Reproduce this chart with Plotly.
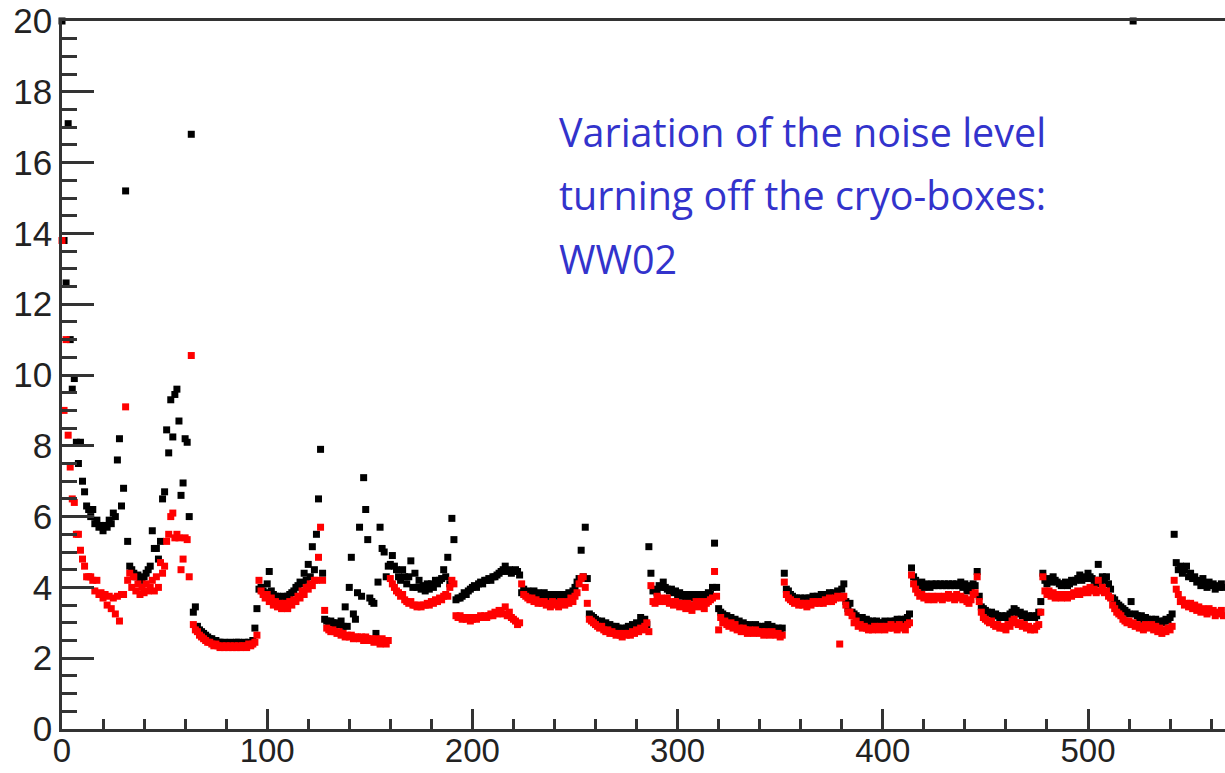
import plotly.graph_objects as go

# Noise level per channel (cryo-boxes on = black, cryo-boxes off = red)
noise_cryo_on = [
    # 0-31
    20.0, 13.8, 12.6, 17.1, 11.0, 9.6, 9.9, 8.1, 7.5, 8.1, 7.0, 6.7, 6.3, 6.2, 6.0, 6.2,
    5.8, 5.9, 5.7, 5.75, 5.6, 5.75, 5.7, 5.9, 5.8, 6.1, 6.0, 7.6, 8.2, 6.3, 6.8, 15.2,
    # 32-63
    5.3, 4.6, 4.5, 4.4, 4.3, 4.35, 4.25, 4.2, 4.3, 4.4, 4.5, 4.6, 5.6, 5.1, 5.1, 4.8,
    5.3, 6.5, 6.7, 8.45, 7.8, 9.3, 8.25, 9.45, 9.6, 8.7, 6.6, 6.95, 8.2, 8.1, 6.0, 16.8,
    # 64-95
    3.3, 3.45, 2.9, 2.8, 2.75, 2.7, 2.65, 2.6, 2.55, 2.55, 2.5, 2.5, 2.45, 2.45, 2.4, 2.45,
    2.4, 2.4, 2.45, 2.4, 2.4, 2.45, 2.45, 2.4, 2.35, 2.45, 2.4, 2.45, 2.4, 2.5, 2.85, 3.4,
    # 96-127
    3.95, 4.0, 3.9, 3.85, 4.1, 4.45, 3.9, 3.8, 3.75, 3.75, 3.7, 3.7, 3.75, 3.7, 3.75, 3.8,
    3.85, 3.9, 4.0, 4.05, 4.15, 4.1, 4.4, 4.2, 4.65, 4.3, 5.15, 4.5, 5.5, 6.5, 7.9, 4.4,
    # 128-159
    3.1, 3.05, 3.0, 3.05, 3.0, 2.95, 3.0, 2.95, 3.05, 2.9, 3.45, 2.9, 4.0, 4.85, 3.25, 3.1,
    3.85, 5.7, 3.75, 7.1, 6.2, 5.35, 3.7, 3.6, 3.55, 2.7, 4.15, 5.7, 5.1, 5.0, 4.3, 4.6,
    # 160-191
    4.65, 4.9, 4.6, 4.5, 4.3, 4.2, 4.5, 4.3, 4.1, 4.3, 4.75, 4.0, 4.4, 4.0, 4.2, 3.95,
    4.05, 3.9, 4.1, 3.95, 4.1, 4.0, 4.2, 4.1, 4.2, 4.25, 4.5, 4.3, 4.85, 4.1, 5.95, 5.35,
    # 192-223
    3.65, 3.7, 3.7, 3.75, 3.85, 3.8, 3.9, 3.95, 4.0, 4.05, 4.0, 4.1, 4.15, 4.1, 4.2, 4.2,
    4.25, 4.2, 4.3, 4.3, 4.35, 4.4, 4.45, 4.5, 4.6, 4.45, 4.5, 4.4, 4.45, 4.5, 4.45, 4.35,
    # 224-255
    3.85, 3.95, 3.8, 3.9, 3.85, 3.8, 3.9, 3.75, 3.85, 3.8, 3.75, 3.85, 3.7, 3.8, 3.7, 3.75,
    3.8, 3.75, 3.8, 3.7, 3.8, 3.75, 3.8, 3.85, 3.8, 3.9, 4.0, 4.15, 4.25, 5.05, 4.3, 5.7,
    # 256-287
    4.25, 3.25, 3.2, 3.15, 3.1, 3.05, 3.0, 3.05, 2.95, 3.0, 2.9, 2.95, 2.9, 2.85, 2.9, 2.85,
    2.8, 2.85, 2.8, 2.85, 2.9, 2.85, 2.95, 2.9, 3.0, 2.95, 3.15, 3.05, 3.1, 2.95, 5.15, 4.4,
    # 288-319
    3.9, 3.95, 3.85, 4.05, 4.0, 4.15, 4.0, 3.95, 3.9, 3.95, 3.85, 3.9, 3.8, 3.85, 3.75, 3.8,
    3.7, 3.75, 3.8, 3.7, 3.75, 3.8, 3.75, 3.8, 3.7, 3.75, 3.8, 3.85, 3.8, 4.0, 5.25, 4.0,
    # 320-351
    3.4, 3.3, 3.25, 3.2, 3.2, 3.1, 3.15, 3.05, 3.1, 3.0, 3.05, 2.95, 3.0, 2.95, 2.9, 2.95,
    2.9, 2.9, 2.95, 2.9, 2.85, 2.9, 2.85, 2.9, 2.95, 2.85, 2.9, 2.85, 2.8, 2.85, 2.8, 2.85,
    # 352-383
    4.4, 3.95, 3.9, 3.8, 3.75, 3.7, 3.7, 3.65, 3.7, 3.65, 3.7, 3.65, 3.7, 3.7, 3.75, 3.7,
    3.75, 3.7, 3.8, 3.75, 3.8, 3.75, 3.85, 3.8, 3.85, 3.8, 3.9, 3.75, 3.95, 4.1, 3.6, 3.4,
    # 384-415
    3.55, 3.3, 3.25, 3.2, 3.15, 3.1, 3.15, 3.05, 3.1, 3.05, 3.0, 3.05, 3.0, 3.05, 3.0, 2.95,
    3.0, 3.05, 3.0, 3.0, 3.05, 3.0, 3.05, 3.1, 3.05, 3.1, 3.05, 3.1, 3.15, 3.25, 4.55, 4.3,
    # 416-447
    4.2, 4.1, 4.05, 4.15, 4.0, 4.1, 4.05, 4.0, 4.1, 4.05, 4.1, 4.05, 4.1, 4.05, 4.1, 4.05,
    4.1, 4.05, 4.1, 4.05, 4.1, 4.05, 4.15, 4.0, 4.1, 3.9, 4.05, 3.95, 4.1, 4.05, 4.45, 3.75,
    # 448-479
    3.45, 3.4, 3.35, 3.3, 3.25, 3.3, 3.2, 3.25, 3.2, 3.15, 3.2, 3.15, 3.2, 3.15, 3.25, 3.3,
    3.4, 3.35, 3.25, 3.3, 3.2, 3.25, 3.15, 3.2, 3.15, 3.2, 3.15, 3.2, 3.3, 3.6, 4.4, 4.2,
    # 480-511
    4.1, 4.25, 4.15, 4.3, 4.2, 4.15, 4.1, 4.05, 4.1, 4.15, 4.05, 4.1, 4.2, 4.15, 4.2, 4.25,
    4.35, 4.2, 4.3, 4.25, 4.4, 4.3, 4.25, 4.2, 4.1, 4.65, 4.2, 4.3, 4.2, 4.3, 4.1, 3.95,
    # 512-541
    3.7, 3.65, 3.55, 3.5, 3.45, 3.4, 3.35, 3.3, 3.25, 3.6, 20.0, 3.25, 3.2, 3.15, 3.2,
    3.1, 3.15, 3.1, 3.05, 3.1, 3.05, 3.1, 3.0, 3.05, 3.0, 3.05, 3.1, 3.05, 3.15, 3.25,
    # 542-567
    5.5, 4.7, 4.5, 4.6, 4.4, 4.5, 4.6, 4.3, 4.4, 4.25, 4.3, 4.15, 4.2,
    4.05, 4.25, 4.1, 4.0, 4.15, 4.05, 4.1, 3.95, 4.05, 4.0, 4.1, 4.0, 4.05,
]

noise_cryo_off = [
    # 0-31
    13.8, 9.0, 11.0, 8.3, 7.4, 6.5, 6.4, 5.5, 5.5, 5.05, 4.8, 4.6, 4.3, 4.3, 4.3, 4.2,
    3.9, 4.2, 3.8, 3.85, 3.7, 3.8, 3.5, 3.75, 3.4, 3.7, 3.25, 3.75, 3.05, 3.8, 3.8, 9.1,
    # 32-63
    4.2, 4.4, 4.0, 4.3, 3.9, 4.1, 3.8, 4.0, 3.85, 4.1, 3.9, 4.0, 4.2, 3.9, 4.3, 4.0,
    4.7, 4.4, 4.6, 5.3, 5.5, 6.0, 6.1, 5.4, 5.5, 5.4, 4.5, 4.8, 5.4, 5.35, 4.3, 10.55,
    # 64-95
    2.95, 2.8, 2.75, 2.65, 2.6, 2.55, 2.5, 2.45, 2.45, 2.4, 2.35, 2.4, 2.35, 2.3, 2.35, 2.3,
    2.35, 2.3, 2.35, 2.3, 2.35, 2.3, 2.35, 2.3, 2.35, 2.35, 2.3, 2.4, 2.35, 2.4, 2.45, 2.65,
    # 96-127
    4.2, 3.9, 3.8, 3.7, 3.8, 3.6, 3.7, 3.5, 3.6, 3.45, 3.55, 3.4, 3.5, 3.55, 3.4, 3.6,
    3.5, 3.65, 3.6, 3.75, 3.7, 3.9, 3.8, 4.0, 3.95, 4.1, 4.05, 4.2, 4.2, 4.85, 5.7, 4.2,
    # 128-159
    3.35, 2.85, 2.8, 2.75, 2.8, 2.75, 2.7, 2.75, 2.65, 2.7, 2.6, 2.65, 2.6, 2.65, 2.55, 2.6,
    2.6, 2.55, 2.6, 2.5, 2.6, 2.55, 2.5, 2.55, 2.45, 2.55, 2.5, 2.4, 2.55, 2.45, 2.4, 2.5,
    # 160-191
    4.25, 4.1, 4.0, 3.9, 3.85, 3.75, 3.8, 3.65, 3.6, 3.55, 3.6, 3.5, 3.5, 3.45, 3.5, 3.45,
    3.5, 3.5, 3.55, 3.5, 3.6, 3.55, 3.65, 3.6, 3.7, 3.65, 3.75, 3.8, 3.75, 4.0, 4.2, 4.1,
    # 192-223
    3.2, 3.15, 3.2, 3.1, 3.15, 3.1, 3.15, 3.05, 3.1, 3.15, 3.1, 3.15, 3.2, 3.15, 3.2, 3.15,
    3.2, 3.25, 3.2, 3.3, 3.25, 3.35, 3.3, 3.25, 3.45, 3.2, 3.3, 3.15, 3.1, 3.05, 2.95, 3.0,
    # 224-255
    4.1, 3.8, 3.75, 3.7, 3.65, 3.7, 3.6, 3.65, 3.55, 3.6, 3.55, 3.6, 3.5, 3.55, 3.45, 3.6,
    3.5, 3.55, 3.45, 3.6, 3.55, 3.5, 3.6, 3.55, 3.7, 3.6, 3.75, 3.85, 4.1, 4.25, 4.3, 4.0,
    # 256-287
    3.55, 3.1, 3.05, 3.0, 2.95, 2.9, 2.85, 2.9, 2.8, 2.75, 2.8, 2.7, 2.75, 2.7, 2.65, 2.7,
    2.65, 2.6, 2.7, 2.65, 2.7, 2.65, 2.75, 2.7, 2.8, 2.75, 2.85, 2.8, 2.9, 3.0, 2.75, 4.05,
    # 288-319
    3.6, 3.55, 3.75, 3.6, 3.7, 3.65, 3.6, 3.7, 3.55, 3.6, 3.5, 3.6, 3.55, 3.45, 3.55, 3.5,
    3.4, 3.55, 3.45, 3.35, 3.5, 3.6, 3.45, 3.55, 3.6, 3.4, 3.55, 3.6, 3.65, 3.7, 4.45, 3.75,
    # 320-351
    2.8, 3.15, 3.0, 3.05, 2.95, 2.9, 3.0, 2.85, 2.95, 2.8, 2.85, 2.75, 2.85, 2.8, 2.7, 2.8,
    2.75, 2.7, 2.8, 2.75, 2.7, 2.75, 2.65, 2.75, 2.7, 2.65, 2.75, 2.7, 2.65, 2.7, 2.6, 2.65,
    # 352-383
    4.15, 3.8, 3.7, 3.65, 3.6, 3.55, 3.6, 3.5, 3.55, 3.5, 3.55, 3.45, 3.55, 3.5, 3.6, 3.55,
    3.6, 3.55, 3.6, 3.55, 3.65, 3.6, 3.7, 3.6, 3.65, 3.7, 3.75, 2.4, 3.7, 3.75, 3.5, 3.3,
    # 384-415
    3.3, 3.2, 3.0, 3.05, 2.9, 2.95, 2.85, 2.9, 2.85, 2.8, 2.85, 2.8, 2.9, 2.85, 2.8, 2.9,
    2.85, 2.8, 2.9, 2.85, 2.95, 2.85, 2.9, 2.8, 2.95, 2.85, 2.9, 2.8, 2.95, 3.0, 4.35, 4.1,
    # 416-447
    3.95, 3.85, 3.75, 3.8, 3.7, 3.75, 3.65, 3.7, 3.75, 3.65, 3.7, 3.75, 3.7, 3.65, 3.75, 3.7,
    3.8, 3.7, 3.75, 3.65, 3.8, 3.7, 3.75, 3.65, 3.7, 3.6, 3.55, 3.65, 3.8, 3.85, 4.3, 3.6,
    # 448-479
    3.3, 3.15, 3.1, 3.05, 3.0, 3.05, 2.95, 2.9, 2.95, 2.85, 2.9, 2.85, 2.8, 2.95, 2.9, 3.05,
    3.1, 3.0, 2.95, 3.0, 2.9, 2.95, 2.85, 2.9, 2.8, 2.85, 2.8, 2.9, 2.95, 3.3, 4.3, 3.9,
    # 480-511
    3.8, 3.9, 3.75, 3.85, 3.7, 3.8, 3.75, 3.7, 3.8, 3.75, 3.7, 3.8, 3.75, 3.85, 3.8, 3.9,
    3.8, 3.85, 3.9, 3.95, 3.85, 4.0, 3.9, 3.95, 3.85, 4.2, 3.9, 4.0, 3.85, 3.9, 3.75, 3.7,
    # 512-541
    3.5, 3.4, 3.3, 3.25, 3.2, 3.1, 3.05, 3.0, 3.05, 2.95, 3.0, 2.9, 2.95, 2.85, 2.9,
    2.8, 2.95, 2.9, 2.85, 2.95, 2.8, 2.9, 2.75, 2.85, 2.7, 2.8, 2.75, 2.85, 2.8, 2.9,
    # 542-567
    4.2, 3.95, 3.8, 3.6, 3.65, 3.5, 3.55, 3.45, 3.55, 3.4, 3.5, 3.35, 3.45,
    3.3, 3.4, 3.35, 3.25, 3.4, 3.3, 3.35, 3.2, 3.3, 3.25, 3.35, 3.2, 3.3,
]

channels = list(range(len(noise_cryo_on)))

x_ticks = [0, 100, 200, 300, 400, 500]
y_ticks = [0, 2, 4, 6, 8, 10, 12, 14, 16, 18, 20]

annotation_lines = [
    "Variation of the noise level",
    "turning off the cryo-boxes:",
    "WW02",
]

W, H = 1225, 773
ML, MR, MT, MB = 62, 0, 21, 44
axis_col = "#333333"

fig = go.Figure()
fig.add_trace(go.Scatter(
    x=channels, y=noise_cryo_on, mode="markers", cliponaxis=False,
    marker=dict(symbol="square", size=7, color="#000000", line=dict(width=0)),
    name="cryo-boxes on", showlegend=False,
))
fig.add_trace(go.Scatter(
    x=channels[:len(noise_cryo_off)], y=noise_cryo_off, mode="markers", cliponaxis=False,
    marker=dict(symbol="square", size=7, color="#ff0000", line=dict(width=0)),
    name="cryo-boxes off", showlegend=False,
))

y_tick_font = dict(family="Liberation Sans", size=35, color="#222222")
x_tick_font = dict(family="Liberation Sans", size=33, color="#222222")

fig.update_xaxes(
    range=[0, (W - ML - MR) / 2.052], automargin=False,
    tickmode="array", tickvals=x_ticks, ticktext=[str(v) for v in x_ticks],
    ticks="inside", ticklen=20, tickwidth=2.5, tickcolor=axis_col,
    showline=True, linecolor=axis_col, linewidth=2.5, mirror=True,
    showgrid=False, zeroline=False, tickfont=x_tick_font,
    minor=dict(ticks="inside", ticklen=10, tickwidth=2.5, tickcolor=axis_col,
               dtick=20, tick0=0, showgrid=False),
    ticklabelstandoff=-9,
)
fig.update_yaxes(
    range=[0, 20], automargin=False,
    tickmode="array", tickvals=y_ticks, ticktext=[str(v) for v in y_ticks],
    ticks="inside", ticklen=32, tickwidth=2.5, tickcolor=axis_col,
    showline=True, linecolor=axis_col, linewidth=2.5,
    showgrid=False, zeroline=False, tickfont=y_tick_font,
    minor=dict(ticks="inside", ticklen=15, tickwidth=2.5, tickcolor=axis_col,
               dtick=0.5, tick0=0, showgrid=False),
    ticklabelstandoff=0,
)

plot_h = H - MT - MB
plot_w = W - ML - MR
line_centers_px = [131.5, 195, 258.5]
for txt, cy in zip(annotation_lines, line_centers_px):
    fig.add_annotation(
        text=txt, xref="paper", yref="paper",
        x=(558 - ML) / plot_w, y=(H - MB - cy) / plot_h,
        xanchor="left", yanchor="middle", showarrow=False, borderpad=0,
        font=dict(family="Open Sans", size=39.5, color="#3333CC"),
    )

fig.update_layout(
    template="none",
    width=W, height=H,
    margin=dict(l=ML, r=MR, t=MT, b=MB),
    paper_bgcolor="white", plot_bgcolor="white",
    showlegend=False,
)

fig.write_html("out.html")
